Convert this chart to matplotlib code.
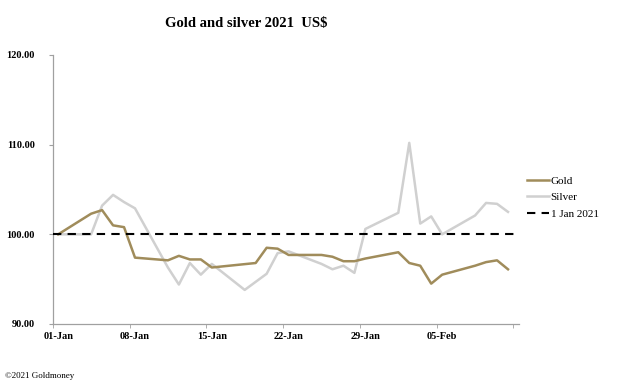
import datetime as dt
import matplotlib
matplotlib.use('Agg')
import matplotlib.pyplot as plt

# Gold and silver rebased to 1 Jan 2021 = 100
gold_dates = ['2021-01-01', '2021-01-04', '2021-01-05', '2021-01-06', '2021-01-07',
              '2021-01-08', '2021-01-11', '2021-01-12', '2021-01-13', '2021-01-14',
              '2021-01-15', '2021-01-19', '2021-01-20', '2021-01-21', '2021-01-22',
              '2021-01-25', '2021-01-26', '2021-01-27', '2021-01-28', '2021-01-29',
              '2021-02-01', '2021-02-02', '2021-02-03', '2021-02-04', '2021-02-05',
              '2021-02-08', '2021-02-09', '2021-02-10', '2021-02-11']
gold = [100.0, 102.3, 102.7, 101.0, 100.8,
        97.4, 97.1, 97.6, 97.2, 97.2,
        96.3, 96.8, 98.5, 98.4, 97.7,
        97.7, 97.5, 97.0, 97.0, 97.3,
        98.0, 96.8, 96.5, 94.5, 95.5,
        96.5, 96.9, 97.1, 96.1]

silver_dates = ['2021-01-01', '2021-01-04', '2021-01-05', '2021-01-06', '2021-01-07',
                '2021-01-08', '2021-01-11', '2021-01-12', '2021-01-13', '2021-01-14',
                '2021-01-15', '2021-01-18', '2021-01-19', '2021-01-20', '2021-01-21',
                '2021-01-22', '2021-01-25', '2021-01-26', '2021-01-27', '2021-01-28',
                '2021-01-29', '2021-02-01', '2021-02-02', '2021-02-03', '2021-02-04',
                '2021-02-05', '2021-02-08', '2021-02-09', '2021-02-10', '2021-02-11']
silver = [100.0, 100.0, 103.2, 104.4, 103.6,
          102.9, 96.3, 94.4, 96.8, 95.5,
          96.7, 93.8, 94.7, 95.6, 97.9,
          98.1, 96.7, 96.1, 96.5, 95.7,
          100.6, 102.4, 110.2, 101.2, 102.0,
          100.0, 102.1, 103.5, 103.4, 102.5]

tick_labels = ['01-Jan', '08-Jan', '15-Jan', '22-Jan', '29-Jan', '05-Feb', '']

start = dt.date(2021, 1, 1)


def day_pos(s):
    # Excel-style date axis: points sit in the middle of each day
    d = dt.date.fromisoformat(s)
    return (d - start).days + 0.5


gx = [day_pos(d) for d in gold_dates]
sx = [day_pos(d) for d in silver_dates]

plt.rcParams['font.family'] = ['Liberation Serif', 'DejaVu Serif']

fig = plt.figure(figsize=(6.21, 3.92), dpi=100)
ax = fig.add_axes([0.0849, 0.1735, 0.7508, 0.6862])

ax.plot(gx, gold, color='#a08c5b', lw=1.8, label='Gold', zorder=3)
ax.plot(sx, silver, color='#d0d0d0', lw=1.8, label='Silver', zorder=2)
ax.axhline(100, color='black', lw=1.5, ls=(0, (4, 3)), label='1 Jan 2021', zorder=4)

ax.set_xlim(0, 42)
ax.set_ylim(90, 120)
ax.set_yticks([90, 100, 110, 120])
ax.set_yticklabels(['%.2f' % v for v in [90, 100, 110, 120]], fontweight='bold', fontsize=7.5)

# week tick marks on day boundaries, labels centred on the day
ax.set_xticks(range(0, 43, 7), minor=True)
ax.set_xticks([x + 0.5 for x in range(0, 43, 7)])
ax.set_xticklabels(tick_labels, fontweight='bold', fontsize=7.5)
ax.tick_params(axis='x', which='major', length=0, pad=6)
ax.tick_params(axis='x', which='minor', length=3, color='#a0a0a0', direction='out')
ax.tick_params(axis='y', length=3, color='#a0a0a0', pad=10)

for side in ['top', 'right']:
    ax.spines[side].set_visible(False)
for side in ['left', 'bottom']:
    ax.spines[side].set_color('#a0a0a0')
    ax.spines[side].set_linewidth(0.9)

fig.legend(handles=ax.get_lines(), loc='center left', bbox_to_anchor=(0.849, 0.497),
           frameon=False, fontsize=8, handlelength=2.0, handletextpad=0.1,
           labelspacing=0.6, borderpad=0, borderaxespad=0)

fig.text(0.396, 0.941, 'Gold and silver 2021  US$', ha='center', va='center',
         fontsize=10.5, fontweight='bold')
fig.text(0.008, 0.04, '\u00a92021 Goldmoney', ha='left', va='center', fontsize=6.5)

fig.savefig('out.png', dpi=100)
